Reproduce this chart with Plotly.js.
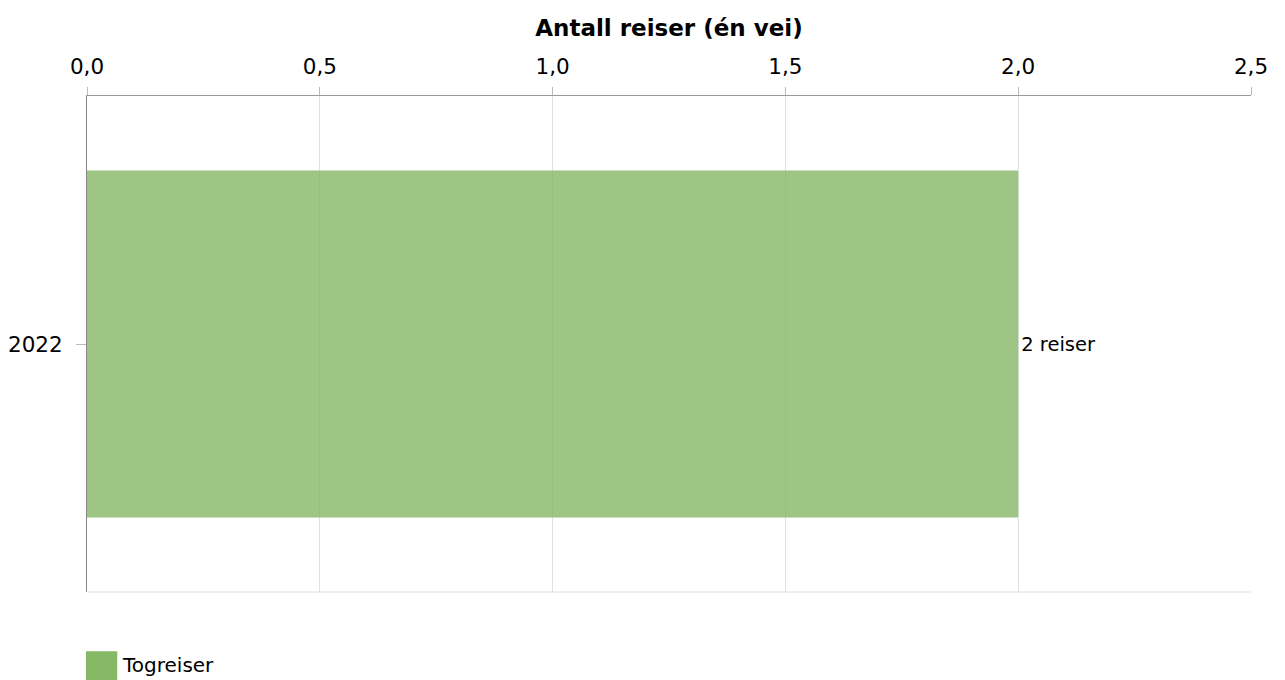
<!DOCTYPE html>
<html>
<head>
<meta charset="utf-8">
<script src="https://cdn.plot.ly/plotly-3.0.1.min.js"></script>
<style>html,body{margin:0;padding:0;background:#fff;}#chart{width:1285px;height:680px;}</style>
</head>
<body>
<div id="chart"></div>
<script>
const categories = ["2022"];
const seriesName = "Togreiser";
const values = [2];
const valueLabels = ["2 reiser"];
const xTicks = [0, 0.5, 1, 1.5, 2, 2.5];
const barColor = "#86b764";
const FONT = "DejaVu Sans, Verdana, sans-serif";

const trace = {
  type: "bar",
  orientation: "h",
  x: values,
  y: categories,
  name: seriesName,
  text: valueLabels,
  textposition: "outside",
  cliponaxis: false,
  textfont: {family: FONT, size: 19.5, color: "#000"},
  marker: {color: barColor, opacity: 0.8},
  showlegend: false,
  hoverinfo: "x+y"
};

const layout = {
  width: 1285, height: 680,
  margin: {l: 87, r: 34, t: 96, b: 88},
  paper_bgcolor: "#fff", plot_bgcolor: "#fff",
  separators: ",.",
  font: {family: FONT, size: 20, color: "#000"},
  bargap: 0.3,
  xaxis: {
    side: "top",
    range: [0, 2.5],
    tickvals: xTicks,
    tickformat: ".1f",
    showgrid: true, gridcolor: "#e0e0e0", gridwidth: 1,
    zeroline: false,
    showline: true, linecolor: "#999", linewidth: 1,
    ticks: "outside", ticklen: 8, tickcolor: "#bbb",
    ticklabelstandoff: 4,
    tickfont: {family: FONT, size: 21.5, color: "#000"},
    title: {text: "<b>Antall reiser (én vei)</b>", font: {family: FONT, size: 23, color: "#000"}, standoff: 11}
  },
  yaxis: {
    type: "category",
    showgrid: false, zeroline: false,
    showline: true, linecolor: "#888", linewidth: 1,
    ticks: "outside", ticklen: 10, tickcolor: "#bbb",
    ticklabelstandoff: 9,
    tickfont: {family: FONT, size: 21.5, color: "#000"}
  },
  shapes: [
    {type: "line", xref: "paper", yref: "paper", x0: 0, x1: 1, y0: 0, y1: 0, line: {color: "#ddd", width: 1}},
    {type: "rect", xref: "paper", yref: "paper", x0: -0.0009, x1: 0.026, y0: -0.1195, y1: -0.178, fillcolor: barColor, line: {width: 0}}
  ],
  annotations: [
    {xref: "paper", yref: "paper", x: 0.0285, y: -0.148, xanchor: "left", yanchor: "middle", text: seriesName, showarrow: false, font: {family: FONT, size: 20, color: "#000"}}
  ]
};

Plotly.newPlot("chart", [trace], layout, {displayModeBar: false, staticPlot: true});
</script>
</body>
</html>
